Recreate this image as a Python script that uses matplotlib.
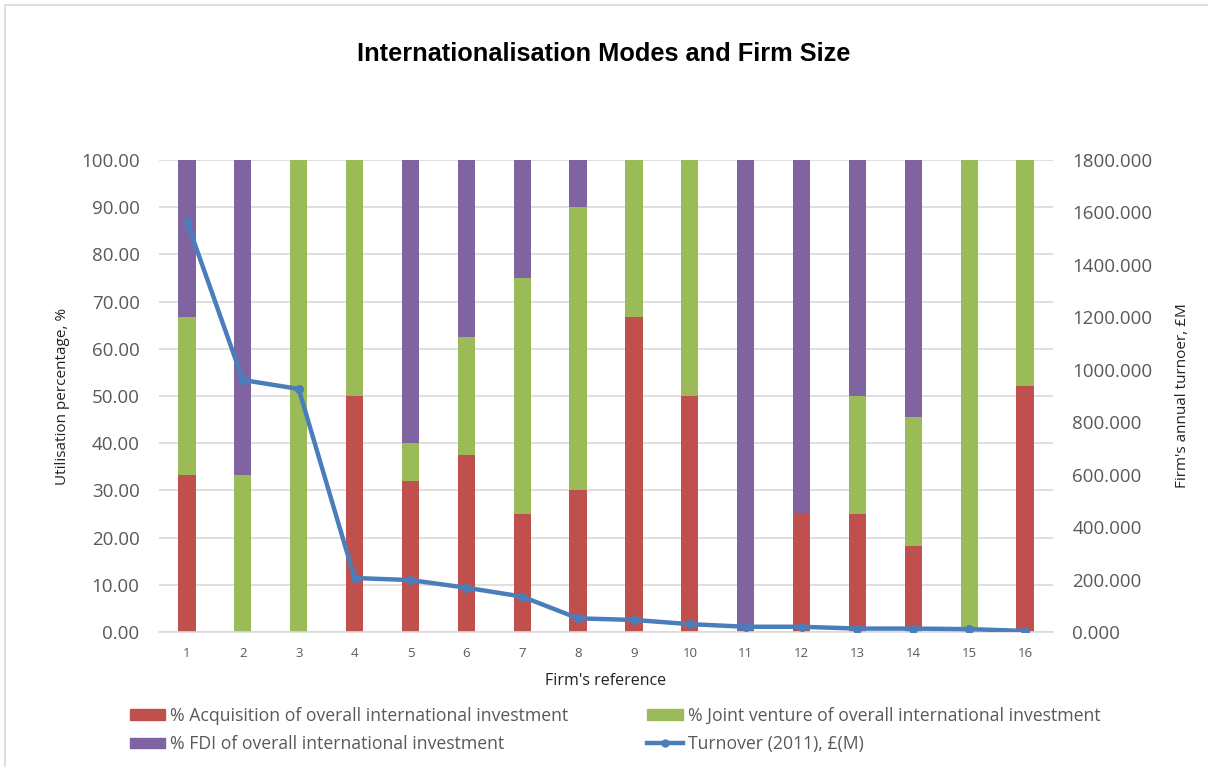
import matplotlib
matplotlib.use("Agg")
import matplotlib.pyplot as plt
from matplotlib.patches import Rectangle
from matplotlib.lines import Line2D
import numpy as np

# Data
firms = [str(i) for i in range(1, 17)]
acquisition = [33.33, 0, 0, 50, 32, 37.5, 25, 30, 66.67, 50, 0, 25, 25, 18.18, 0, 52.2]
joint_venture = [33.33, 33.33, 100, 50, 8, 25, 50, 60, 33.33, 50, 0, 0, 25, 27.27, 100, 47.8]
fdi = [33.34, 66.67, 0, 0, 60, 37.5, 25, 10, 0, 0, 100, 75, 50, 54.55, 0, 0]
turnover = [1565, 961, 927, 206, 198, 169, 135, 52, 46, 30, 20, 20, 13, 13, 11, 4]

left_ticks = [0, 10, 20, 30, 40, 50, 60, 70, 80, 90, 100]
right_ticks = [0, 200, 400, 600, 800, 1000, 1200, 1400, 1600, 1800]

RED = "#C0504D"
GREEN = "#9BBB59"
PURPLE = "#8064A2"
BLUE = "#4A7EBB"
TXT = "#595959"
GRID = "#D9D9D9"

W, H = 1208, 767
fig = plt.figure(figsize=(W / 100, H / 100), dpi=100)
fig.patch.set_facecolor("white")

# chart-area frame
fig.add_artist(Rectangle((5 / W, -0.01), 1.2, 1 - 5 / H + 0.01, transform=fig.transFigure,
                         fill=False, edgecolor="#D9D9D9", linewidth=1.2))

ax = fig.add_axes([159 / W, 1 - 632 / H, (1053 - 159) / W, (632 - 160) / H])
x = np.arange(len(firms))
bw = 0.31
acq = np.array(acquisition)
jv = np.array(joint_venture)
fd = np.array(fdi)
ax.bar(x, acq, bw, color=RED, zorder=2)
ax.bar(x, jv, bw, bottom=acq, color=GREEN, zorder=2)
ax.bar(x, fd, bw, bottom=acq + jv, color=PURPLE, zorder=2)

ax.set_xlim(-0.5, len(firms) - 0.5)
ax.set_ylim(0, 100)
ax.set_yticks(left_ticks)
ax.set_yticklabels([f"{v:.2f}" for v in left_ticks])
ax.set_xticks(x)
ax.set_xticklabels(firms)
ax.yaxis.grid(True, color=GRID, linewidth=1.2, zorder=0)
ax.set_axisbelow(True)
for s in ["top", "right", "left"]:
    ax.spines[s].set_visible(False)
ax.spines["bottom"].set_color(GRID)
ax.spines["bottom"].set_linewidth(1.2)
ax.tick_params(axis="y", length=0, pad=14, labelsize=13.5, labelcolor=TXT)
ax.tick_params(axis="x", length=0, pad=11, labelsize=9.5, labelcolor=TXT)
for lab in ax.get_yticklabels() + ax.get_xticklabels():
    lab.set_fontfamily("Open Sans")

ax.set_ylabel("Utilisation percentage, %", fontsize=11, color="#222222",
              family="Open Sans", labelpad=8)
ax.set_xlabel("Firm's reference", fontsize=11.5, color="#222222",
              family="Open Sans", labelpad=9)

ax2 = ax.twinx()
ax2.plot(x, turnover, color=BLUE, linewidth=3.2, marker="o", markersize=5.5,
         zorder=5, solid_joinstyle="round")
ax2.set_ylim(0, 1800)
ax2.set_yticks(right_ticks)
ax2.set_yticklabels([f"{v:.3f}" for v in right_ticks])
for s in ["top", "right", "left", "bottom"]:
    ax2.spines[s].set_visible(False)
ax2.tick_params(axis="y", length=0, pad=14, labelsize=13.5, labelcolor=TXT)
for lab in ax2.get_yticklabels():
    lab.set_fontfamily("Open Sans")
ax2.set_ylabel("Firm's annual turnoer, £M", fontsize=11, color="#222222",
               family="Open Sans", labelpad=16)

fig.text(604 / W, 1 - 54 / H, "Internationalisation Modes and Firm Size",
         ha="center", va="center", fontsize=18.3, fontweight="bold",
         family="Liberation Sans", color="black")

handles = [
    Rectangle((0, 0), 1, 1, color=RED),
    Rectangle((0, 0), 1, 1, color=PURPLE),
    Rectangle((0, 0), 1, 1, color=GREEN),
    Line2D([], [], color=BLUE, linewidth=3.2, marker="o", markersize=5),
]
labels = [
    "% Acquisition of overall international investment",
    "% FDI of overall international investment",
    "% Joint venture of overall international investment",
    "Turnover (2011), £(M)",
]
leg = fig.legend(handles, labels, ncol=2, loc="center left",
                 bbox_to_anchor=(114 / W, 1 - 730 / H), frameon=False,
                 prop={"family": "Open Sans", "size": 12.7},
                 handlelength=2.0, handleheight=0.56, handletextpad=0.28,
                 columnspacing=4.48, labelspacing=0.6)
for t in leg.get_texts():
    t.set_color(TXT)

fig.savefig("out.png", dpi=100, facecolor="white")
